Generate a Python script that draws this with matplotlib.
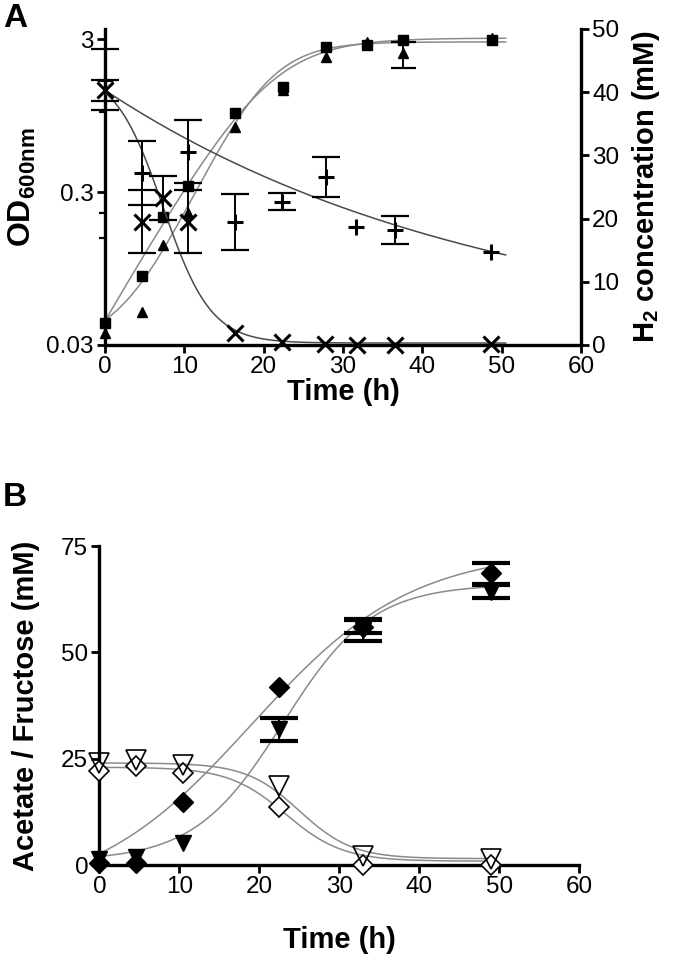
import matplotlib
matplotlib.use('Agg')
import matplotlib.pyplot as plt
import numpy as np
from matplotlib.ticker import FixedLocator, NullFormatter


# Panel A: growth (OD600, left log axis) and H2 (right axis)
time_od = [0, 4.7, 7.3, 10.5, 16.4, 22.4, 27.9, 33.0, 37.5, 48.8]
od_square = [0.042, 0.085, 0.207, 0.33, 0.99, 1.46, 2.65, 2.77, 2.98, 2.95]
od_triangle = [0.036, 0.049, 0.135, 0.218, 0.80, 1.39, 2.28, 2.87, 2.42, 3.07]
od_triangle_err = [0, 0, 0, 0, 0, 0, 0, 0, 0.47, 0]

time_h2_cross = [0, 4.6, 7.3, 10.4, 16.4, 22.3, 27.7, 31.7, 36.6, 48.6]
h2_cross = [40.3, 19.5, 23.2, 19.5, 1.9, 0.4, 0.2, 0.0, 0.0, 0.1]
h2_cross_err = [1.7, 5.0, 3.5, 5.0, 0, 0, 0, 0, 0, 0]

time_h2_plus = [0, 4.6, 10.5, 16.4, 22.3, 27.9, 31.6, 36.6, 48.6]
h2_plus = [42.0, 27.2, 30.6, 19.5, 22.7, 26.6, 18.6, 18.2, 14.7]
h2_plus_err = [4.8, 5.0, 5.0, 4.4, 1.3, 3.2, 0, 2.2, 0]

# Panel B: acetate (filled) and fructose (open)
time_b = [0, 4.6, 10.4, 22.5, 32.9, 49.0]
acetate_diamond = [0.5, 0.5, 14.8, 41.9, 56.0, 68.6]
acetate_diamond_err = [0, 0, 0, 0, 1.5, 2.5]
acetate_triangle = [1.4, 1.9, 5.2, 31.9, 55.3, 64.3]
acetate_triangle_err = [0, 0, 0, 2.7, 2.6, 1.6]
fructose_diamond = [22.0, 23.2, 21.6, 13.6, 0.1, 0.0]
fructose_triangle = [24.1, 24.7, 23.5, 18.6, 2.1, 1.3]

# fitted curves as drawn in the figure: [bottom, top, midpoint (h), rate (1/h)]
od_square_fit = [0.0, 3.05, 20.6, 0.206]
od_triangle_fit = [0.03, 2.88, 19.8, 0.269]
h2_cross_fit = [0.3, 43.5, 7.3, -0.33]
h2_plus_fit = [40.3, 0.0206]  # one-phase decay: start value, rate
acetate_diamond_fit = [-8.0, 74.0, 19.0, 0.10]
acetate_triangle_fit = [1.0, 66.0, 23.0, 0.18]
fructose_diamond_fit = [0.9, 23.0, 23.3, -0.28]
fructose_triangle_fit = [1.5, 24.0, 25.0, -0.30]

od_major_ticks = [0.03, 0.3, 3]
od_major_labels = ['0.03', '0.3', '3']
od_minor_ticks = [0.15, 0.22, 1.0]
time_ticks = [0, 10, 20, 30, 40, 50, 60]
h2_ticks = [0, 10, 20, 30, 40, 50]
conc_ticks = [0, 25, 50, 75]

plt.rcParams['font.family'] = ['Liberation Sans', 'DejaVu Sans']
plt.rcParams['mathtext.fontset'] = 'custom'
plt.rcParams['mathtext.rm'] = 'Liberation Sans'
plt.rcParams['mathtext.bf'] = 'Liberation Sans:bold'
tick_size = 17.5
label_size = 21
curve_grey = '#8a8a8a'
curve_dark = '#4a4a4a'


def logistic(params, t):
    bottom, top, mid, rate = params
    return bottom + (top - bottom) / (1.0 + np.exp(-rate * (t - mid)))


def decay(params, t):
    start, rate = params
    return start * np.exp(-rate * t)


def error_bars(ax, x, y, err, capsize, capthick):
    """Draw error bars only where a spread was reported."""
    x, y, err = np.asarray(x), np.asarray(y), np.asarray(err)
    keep = err > 0
    ax.errorbar(x[keep], y[keep], yerr=err[keep], fmt='none', ecolor='black',
                elinewidth=1.4, capsize=capsize, capthick=capthick, zorder=3,
                clip_on=False)


def style_axis(ax):
    ax.tick_params(axis='both', which='major', direction='out', length=6,
                   width=2.0, labelsize=tick_size, pad=2)
    ax.tick_params(axis='both', which='minor', direction='out', length=4, width=1.6)
    for side in ax.spines.values():
        side.set_linewidth(2.4)


fig = plt.figure(figsize=(6.85, 9.69), dpi=100)

# ---------------- Panel A ----------------
ax = fig.add_axes([0.1533, 0.644, 0.6949, 0.3261])
ax2 = ax.twinx()
ax.set_yscale('log')
ax.set_xlim(0, 60)
ax.set_ylim(0.03, 3.5)
ax2.set_ylim(0, 50)

t_curve = np.linspace(0, 50.5, 300)
ax.plot(t_curve, logistic(od_square_fit, t_curve), color=curve_grey, lw=1.1, zorder=2)
ax.plot(t_curve, logistic(od_triangle_fit, t_curve), color=curve_grey, lw=1.1, zorder=2)
ax.plot(time_od, od_square, 's', color='black', ms=7.5, zorder=3, clip_on=False)
ax.plot(time_od, od_triangle, '^', color='black', ms=7.5, zorder=3, clip_on=False)
error_bars(ax, time_od, od_triangle, od_triangle_err, 9, 1.6)

ax2.plot(t_curve, logistic(h2_cross_fit, t_curve), color=curve_dark, lw=1.1, zorder=2)
ax2.plot(t_curve, decay(h2_plus_fit, t_curve), color=curve_dark, lw=1.1, zorder=2)
ax2.plot(time_h2_cross, h2_cross, 'x', color='black', ms=11, mew=2.2, clip_on=False)
ax2.plot(time_h2_plus, h2_plus, '+', color='black', ms=12, mew=2.2, clip_on=False)
error_bars(ax2, time_h2_cross, h2_cross, h2_cross_err, 10, 1.6)
error_bars(ax2, time_h2_plus, h2_plus, h2_plus_err, 10, 1.6)

ax.yaxis.set_major_locator(FixedLocator(od_major_ticks))
ax.set_yticklabels(od_major_labels)
ax.yaxis.set_minor_locator(FixedLocator(od_minor_ticks))
ax.yaxis.set_minor_formatter(NullFormatter())
ax.set_xticks(time_ticks)
ax2.set_yticks(h2_ticks)
for a in (ax, ax2):
    style_axis(a)
    a.spines['top'].set_visible(False)
ax.spines['right'].set_visible(False)
ax2.spines['left'].set_visible(False)
ax2.spines['bottom'].set_visible(False)

ax.set_xlabel('Time (h)', fontsize=label_size, fontweight='bold')
ax.xaxis.set_label_coords(0.5, -0.105)
ax.set_ylabel('OD$_{\\mathbf{600nm}}$', fontsize=23, fontweight='bold')
ax.yaxis.set_label_coords(-0.14, 0.5)
ax2.set_ylabel('H$_\\mathbf{2}$ concentration (mM)', fontsize=label_size, fontweight='bold')
ax2.yaxis.set_label_coords(1.103, 0.5)
fig.text(0.004, 0.997, 'A', fontsize=24, fontweight='bold', va='top', ha='left')

# ---------------- Panel B ----------------
bx = fig.add_axes([0.145, 0.1073, 0.7007, 0.3292])
bx.set_xlim(0, 60)
bx.set_ylim(0, 75)

t_curve_b = np.linspace(0, 49.2, 300)
for params in (acetate_diamond_fit, acetate_triangle_fit,
               fructose_diamond_fit, fructose_triangle_fit):
    bx.plot(t_curve_b, logistic(params, t_curve_b), color=curve_grey, lw=1.1, zorder=2)

bx.plot(time_b, acetate_diamond, 'D', color='black', ms=10, zorder=3, clip_on=False)
bx.plot(time_b, acetate_triangle, 'v', color='black', ms=12, zorder=3, clip_on=False)
error_bars(bx, time_b, acetate_diamond, acetate_diamond_err, 14, 3)
error_bars(bx, time_b, acetate_triangle, acetate_triangle_err, 14, 3)
bx.plot(time_b, fructose_diamond, 'D', mfc='white', mec='black', mew=1.2, ms=10,
        zorder=4, clip_on=False)
bx.plot(time_b, fructose_triangle, 'v', mfc='none', mec='black', mew=1.2, ms=14,
        zorder=4, clip_on=False)

bx.set_xticks(time_ticks)
bx.set_yticks(conc_ticks)
style_axis(bx)
bx.spines['top'].set_visible(False)
bx.spines['right'].set_visible(False)
bx.set_xlabel('Time (h)', fontsize=label_size, fontweight='bold')
bx.xaxis.set_label_coords(0.5, -0.19)
bx.set_ylabel('Acetate / Fructose (mM)', fontsize=label_size, fontweight='bold')
bx.yaxis.set_label_coords(-0.1235, 0.5)
fig.text(0.004, 0.503, 'B', fontsize=24, fontweight='bold', va='top', ha='left')

fig.savefig('out.png', dpi=100)
